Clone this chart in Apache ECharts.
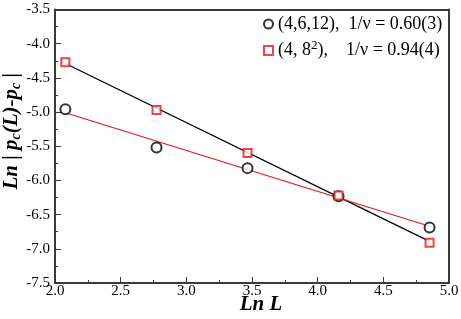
<!DOCTYPE html>
<html>
<head>
<meta charset="utf-8">
<script src="https://cdn.jsdelivr.net/npm/echarts@6/dist/echarts.min.js"></script>
<style>
  html, body { margin: 0; padding: 0; background: #fff; }
  #chart { width: 461px; height: 319px; }
</style>
</head>
<body>
<div id="chart"></div>
<script>
  // ln L for L = 8, 16, 32, 64, 128
  const lnL = [2.079, 2.773, 3.466, 4.159, 4.852];
  const circleY = [-4.96, -5.52, -5.82, -6.23, -6.69];   // (4,6,12)
  const squareY = [-4.27, -4.97, -5.60, -6.22, -6.91];   // (4,8^2)
  // fitted lines, endpoints at first and last L
  const fitX = [2.079, 4.852];
  const fitBlackY = [-4.29, -6.89];
  const fitRedY = [-5.01, -6.67];

  const xTicks = [2.0, 2.5, 3.0, 3.5, 4.0, 4.5, 5.0];
  const yTicks = [-7.5, -7.0, -6.5, -6.0, -5.5, -5.0, -4.5, -4.0, -3.5];

  const font = 'Liberation Serif';
  const frame = '#3a3a3a';

  const pairs = (xs, ys) => xs.map((x, i) => [x, ys[i]]);

  const chart = echarts.init(document.getElementById('chart'));
  chart.setOption({
    animation: false,
    grid: { left: 55, right: 12, top: 9.5, bottom: 36, outerBoundsMode: 'none' },
    legend: {
      data: ['circ', 'sq'],
      orient: 'vertical',
      left: 258,
      top: 10,
      itemWidth: 9,
      itemHeight: 9,
      itemGap: 6,
      textStyle: {
        fontFamily: font, fontSize: 18, color: '#000',
        rich: {
          sup: { fontFamily: font, fontSize: 13, verticalAlign: 'top', padding: [0, 0, 10, 0] }
        }
      },
      formatter: function (name) {
        if (name === 'circ') return '(4,6,12),  1/\u03bd = 0.60(3)';
        return '(4, 8{sup|2}),    1/\u03bd = 0.94(4)';
      }
    },
    xAxis: [{
      type: 'value',
      min: 2, max: 5, interval: 0.5,
      name: 'Ln L',
      nameLocation: 'middle',
      nameGap: 11,
      nameMoveOverlap: false,
      nameTextStyle: { fontFamily: font, fontSize: 21, fontWeight: 'bold', fontStyle: 'italic', color: '#000', padding: [0, 0, 0, 18] },
      axisLine: { lineStyle: { color: frame, width: 2 } },
      axisTick: { inside: true, length: 6, lineStyle: { color: frame } },
      minorTick: { show: true, splitNumber: 2, length: 3, lineStyle: { color: frame } },
      axisLabel: { fontFamily: font, fontSize: 15, color: '#000', margin: 1,
        formatter: v => v.toFixed(1) },
      splitLine: { show: false }
    }, {
      type: 'value', position: 'top', min: 2, max: 5,
      axisLine: { show: true, lineStyle: { color: frame, width: 2 } },
      axisTick: { show: false }, axisLabel: { show: false }, splitLine: { show: false }
    }],
    yAxis: [{
      type: 'value',
      min: -7.5, max: -3.5, interval: 0.5,
      name: '{b|Ln} | {b|p}{s|c}{b|(L)-p}{s|c} |',
      nameLocation: 'middle',
      nameGap: 32,
      nameMoveOverlap: false,
      nameTextStyle: {
        fontFamily: font, fontSize: 21, fontWeight: 'bold', fontStyle: 'italic', color: '#000',
        padding: [0, 0, 0, 30],
        rich: {
          b: { fontFamily: font, fontSize: 21, fontWeight: 'bold', fontStyle: 'italic', color: '#000' },
          s: { fontFamily: font, fontSize: 14, fontWeight: 'bold', fontStyle: 'italic', color: '#000', verticalAlign: 'bottom', padding: [8, 0, 0, 0] }
        }
      },
      axisLine: { lineStyle: { color: frame, width: 2 } },
      axisTick: { inside: true, length: 6, lineStyle: { color: frame } },
      minorTick: { show: true, splitNumber: 2, length: 3, lineStyle: { color: frame } },
      axisLabel: { fontFamily: font, fontSize: 15, color: '#000', margin: 5,
        formatter: v => v.toFixed(1) },
      splitLine: { show: false }
    }, {
      type: 'value', position: 'right', min: -7.5, max: -3.5,
      axisLine: { show: true, lineStyle: { color: frame, width: 2 } },
      axisTick: { show: false }, axisLabel: { show: false }, splitLine: { show: false }
    }],
    series: [
      {
        name: 'fitBlack', type: 'line', data: pairs(fitX, fitBlackY),
        symbol: 'none', lineStyle: { color: '#000', width: 1.3 }, z: 2
      },
      {
        name: 'fitRed', type: 'line', data: pairs(fitX, fitRedY),
        symbol: 'none', lineStyle: { color: '#e41a1a', width: 1.3 }, z: 2
      },
      {
        name: 'circ', type: 'scatter', data: pairs(lnL, circleY),
        symbol: 'emptyCircle', symbolSize: 10,
        itemStyle: { color: '#000', borderWidth: 1.5 }, z: 3
      },
      {
        name: 'sq', type: 'scatter', data: pairs(lnL, squareY),
        symbol: 'emptyRect', symbolSize: 8,
        itemStyle: { color: '#e41a1a', borderWidth: 1.3 }, z: 3
      }
    ]
  });
</script>
</body>
</html>
